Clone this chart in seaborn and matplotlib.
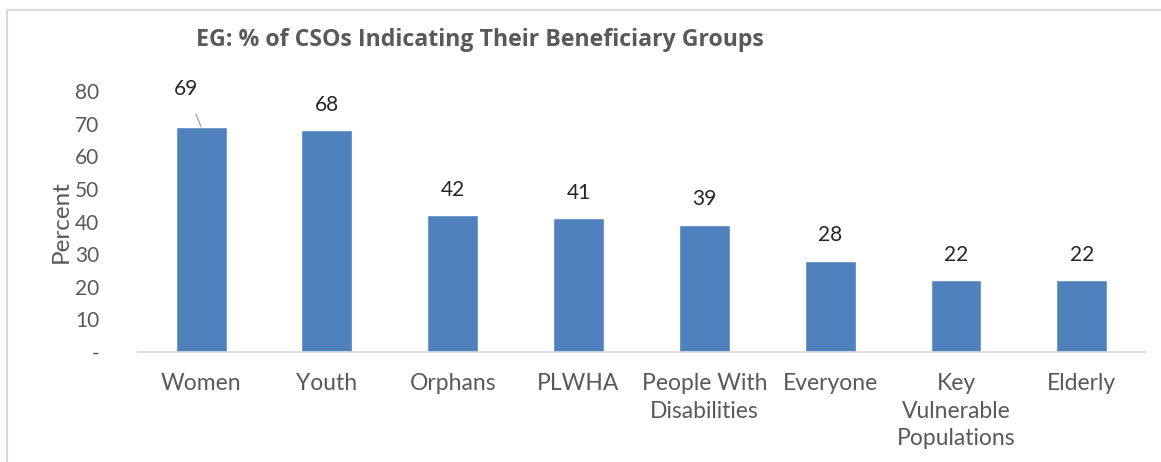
import matplotlib
matplotlib.use('Agg')
import matplotlib.pyplot as plt
import matplotlib.patches as mpatches
import seaborn as sns
import pandas as pd

groups = ['Women', 'Youth', 'Orphans', 'PLWHA', 'People With\nDisabilities',
          'Everyone', 'Key\nVulnerable\nPopulations', 'Elderly']
percent = [69, 68, 42, 41, 39, 28, 22, 22]
ytick_vals = [0, 10, 20, 30, 40, 50, 60, 70, 80]
ytick_labels = ['-', '10', '20', '30', '40', '50', '60', '70', '80']

grey = '#595959'
bar_col = '#4f81bd'

sns.set_style('white')
plt.rcParams['font.family'] = ['Lato', 'DejaVu Sans']

df = pd.DataFrame({'group': groups, 'percent': percent})

fig = plt.figure(figsize=(11.61, 4.62), dpi=100)
ax = fig.add_axes([0.119, 0.238, 0.867, 0.565])

sns.barplot(data=df, x='group', y='percent', color=bar_col, width=0.405,
            saturation=1, ax=ax)

ax.set_ylim(0, 80)
ax.set_xlim(-0.5, len(groups) - 0.5)
ax.set_yticks(ytick_vals)
ax.set_yticklabels(ytick_labels)
ax.tick_params(axis='both', length=0, colors=grey)
ax.tick_params(axis='y', labelsize=15, pad=28)
ax.tick_params(axis='x', labelsize=16.5, pad=15)
for lab in ax.get_xticklabels():
    lab.set_linespacing(1.4)
ax.set_xlabel('')
ax.set_ylabel('Percent', fontsize=17.5, color=grey, labelpad=2)
for s in ['top', 'right', 'left']:
    ax.spines[s].set_visible(False)
ax.spines['bottom'].set_color('#d9d9d9')
ax.spines['bottom'].set_linewidth(1.2)

# value labels
for i, v in enumerate(percent):
    if i == 0:
        ax.annotate(str(v), xy=(i, v), xytext=(i - 0.12, v + 11.5),
                    ha='center', va='center', fontsize=15, color='#262626',
                    annotation_clip=False,
                    arrowprops=dict(arrowstyle='-', color='#a6a6a6', lw=1,
                                    shrinkA=9, shrinkB=0))
    else:
        ax.text(i, v + 7.8, str(v), ha='center', va='center', fontsize=15,
                color='#262626', clip_on=False)

fig.text(0.413, 0.913, 'EG: % of CSOs Indicating Their Beneficiary Groups',
         ha='center', va='center', fontsize=16.7, fontweight='bold', color=grey,
         family=['Open Sans', 'DejaVu Sans'])

# chart area border
fig.patches.append(mpatches.Rectangle((0.006, -0.05), 1.1, 1.028, transform=fig.transFigure,
                                      fill=False, edgecolor='#d9d9d9', lw=1.5))

fig.savefig('out.png', dpi=100)
